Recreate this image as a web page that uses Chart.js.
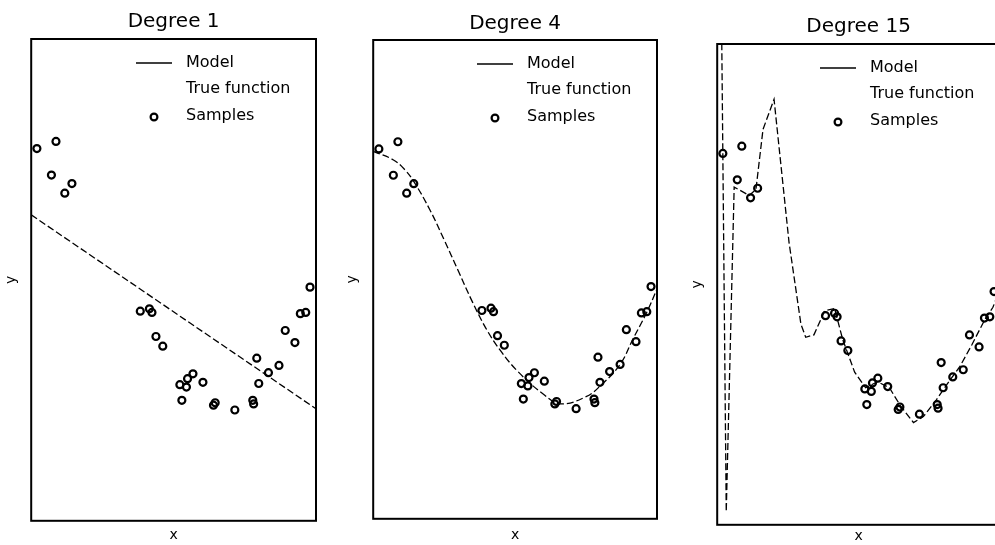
<!DOCTYPE html>
<html>
<head>
<meta charset="utf-8">
<script src="https://cdn.jsdelivr.net/npm/chart.js@4.4.1/dist/chart.umd.min.js"></script>
<style>
  html, body { margin: 0; padding: 0; background: #fff; overflow: hidden; }
  body { width: 995px; height: 545px; position: relative; }
  canvas { position: absolute; top: 0; }
</style>
</head>
<body>
<canvas id="c1" width="340" height="545" style="left:0px"></canvas>
<canvas id="c2" width="330" height="545" style="left:340px"></canvas>
<canvas id="c3" width="340" height="545" style="left:670px"></canvas>
<script>
// noisy samples
var sampleX = [0.020, 0.071, 0.087, 0.118, 0.143, 0.383, 0.415, 0.424, 0.438, 0.462,
               0.522, 0.529, 0.545, 0.549, 0.568, 0.603, 0.640, 0.646, 0.715, 0.778,
               0.781, 0.792, 0.799, 0.833, 0.870, 0.892, 0.926, 0.945, 0.964, 0.979];
var sampleY = [1.09, 0.87, 1.15, 0.72, 0.80, -0.26, -0.24, -0.27, -0.47, -0.55,
               -0.87, -1.00, -0.89, -0.82, -0.78, -0.85, -1.04, -1.02, -1.08, -1.00,
               -1.03, -0.65, -0.86, -0.77, -0.71, -0.42, -0.52, -0.28, -0.27, -0.06];

// fitted models
var deg1X = [0, 1];
var deg1Y = [0.54, -1.07];

var deg4X = [0, 0.07, 0.11, 0.145, 0.2, 0.25, 0.3, 0.35, 0.4, 0.45,
             0.51, 0.6, 0.66, 0.75, 0.8, 0.87, 0.915, 0.965, 1.0];
var deg4Y = [1.07, 1.0, 0.92, 0.81, 0.58, 0.33, 0.07, -0.19, -0.42, -0.6,
             -0.77, -0.96, -1.04, -0.98, -0.89, -0.71, -0.5, -0.27, -0.08];

var deg15X = [0, 0.032, 0.060, 0.113, 0.137, 0.162, 0.201, 0.254, 0.296, 0.313,
              0.342, 0.380, 0.415, 0.444, 0.486, 0.525, 0.567, 0.609, 0.648, 0.694,
              0.729, 0.775, 0.813, 0.859, 0.901, 0.947, 0.975, 1.0];
var deg15Y = [6.0, -1.89, 0.81, 0.74, 0.79, 1.29, 1.54, 0.35, -0.33, -0.44,
              -0.42, -0.22, -0.20, -0.46, -0.73, -0.86, -0.81, -0.86, -1.01, -1.15,
              -1.10, -0.96, -0.83, -0.68, -0.50, -0.29, -0.19, -0.04];

// true function curve is not drawn in this figure
var trueX = [];
var trueY = [];

var degrees = [1, 4, 15];
var seriesNames = ["Model", "True function", "Samples"];

function pts(xs, ys) {
    return xs.map(function (x, i) { return {x: x, y: ys[i]}; });
}

var FONT = "'DejaVu Sans', sans-serif";
var legendRows = [24, 50, 77];

// box around the plot area
var frame = {
    id: "frame",
    afterDraw: function (chart) {
        var a = chart.chartArea, ctx = chart.ctx;
        ctx.save();
        ctx.strokeStyle = "#000";
        ctx.lineWidth = 2;
        ctx.strokeRect(a.left, a.top, a.right - a.left, a.bottom - a.top);
        ctx.restore();
    }
};

// legend in the upper right corner of the axes
var insideLegend = {
    id: "insideLegend",
    afterDraw: function (chart) {
        var ctx = chart.ctx, a = chart.chartArea;
        var x0 = a.right - 180, x1 = a.right - 144, tx = a.right - 130;
        ctx.save();
        ctx.font = "16px " + FONT;
        ctx.textBaseline = "middle";
        ctx.fillStyle = "#000";
        chart.data.datasets.forEach(function (ds, i) {
            var y = a.top + legendRows[i];
            if (ds.showLine) {
                ctx.strokeStyle = ds.borderColor;
                ctx.lineWidth = 1.3;
                ctx.beginPath();
                ctx.moveTo(x0, y);
                ctx.lineTo(x1, y);
                ctx.stroke();
            } else {
                ctx.strokeStyle = "#000";
                ctx.lineWidth = 2.2;
                ctx.beginPath();
                ctx.arc((x0 + x1) / 2, y + 1, 3.4, 0, Math.PI * 2);
                ctx.stroke();
            }
            ctx.fillText(ds.label, tx, y);
        });
        ctx.restore();
    }
};

var panels = [
    {id: "c1", mx: deg1X, my: deg1Y, tension: 0,
     pad: {left: 0, right: 24, top: 0, bottom: 0},
     titlePad: {top: 10, bottom: 5}, xPad: {top: 6.4, bottom: 1}, yPad: {top: 3, bottom: 11.4}},
    {id: "c2", mx: deg4X, my: deg4Y, tension: 0.4,
     pad: {left: 0, right: 13, top: 0, bottom: 0},
     titlePad: {top: 11.5, bottom: 4.5}, xPad: {top: 8.4, bottom: 1}, yPad: {top: 4.2, bottom: 12.2}},
    {id: "c3", mx: deg15X, my: deg15Y, tension: 0,
     pad: {left: 15, right: 10, top: 0, bottom: 0},
     titlePad: {top: 14.3, bottom: 5.7}, xPad: {top: 3.4, bottom: 0}, yPad: {top: 4.2, bottom: 11.2}}
];

panels.forEach(function (p, k) {
    new Chart(p.id, {
        type: "scatter",
        data: {
            datasets: [{
                label: seriesNames[0],
                data: pts(p.mx, p.my),
                showLine: true,
                borderColor: "#000",
                borderWidth: 1.3,
                borderDash: [7, 3],
                tension: p.tension,
                pointRadius: 0
            }, {
                label: seriesNames[1],
                data: pts(trueX, trueY),
                showLine: true,
                borderColor: "rgba(0,0,0,0)",
                pointRadius: 0
            }, {
                label: seriesNames[2],
                data: pts(sampleX, sampleY),
                showLine: false,
                pointStyle: "circle",
                pointRadius: 3.5,
                pointBorderWidth: 2.2,
                borderColor: "#000",
                backgroundColor: "rgba(0,0,0,0)"
            }]
        },
        options: {
            responsive: false,
            animation: false,
            devicePixelRatio: 1,
            layout: {padding: p.pad},
            plugins: {
                legend: {display: false},
                tooltip: {enabled: false},
                title: {
                    display: true,
                    text: "Degree " + degrees[k],
                    fullSize: false,
                    color: "#000",
                    font: {family: FONT, size: 20, weight: "normal"},
                    padding: p.titlePad
                }
            },
            scales: {
                x: {
                    type: "linear", min: 0, max: 1,
                    ticks: {display: false},
                    grid: {display: false, drawTicks: false},
                    border: {display: false},
                    title: {display: true, text: "x", color: "#000",
                            font: {family: FONT, size: 14}, padding: p.xPad}
                },
                y: {
                    type: "linear", min: -2, max: 2,
                    ticks: {display: false},
                    grid: {display: false, drawTicks: false},
                    border: {display: false},
                    title: {display: true, text: "y", color: "#000",
                            font: {family: FONT, size: 14}, padding: p.yPad}
                }
            }
        },
        plugins: [frame, insideLegend]
    });
});
</script>
</body>
</html>
